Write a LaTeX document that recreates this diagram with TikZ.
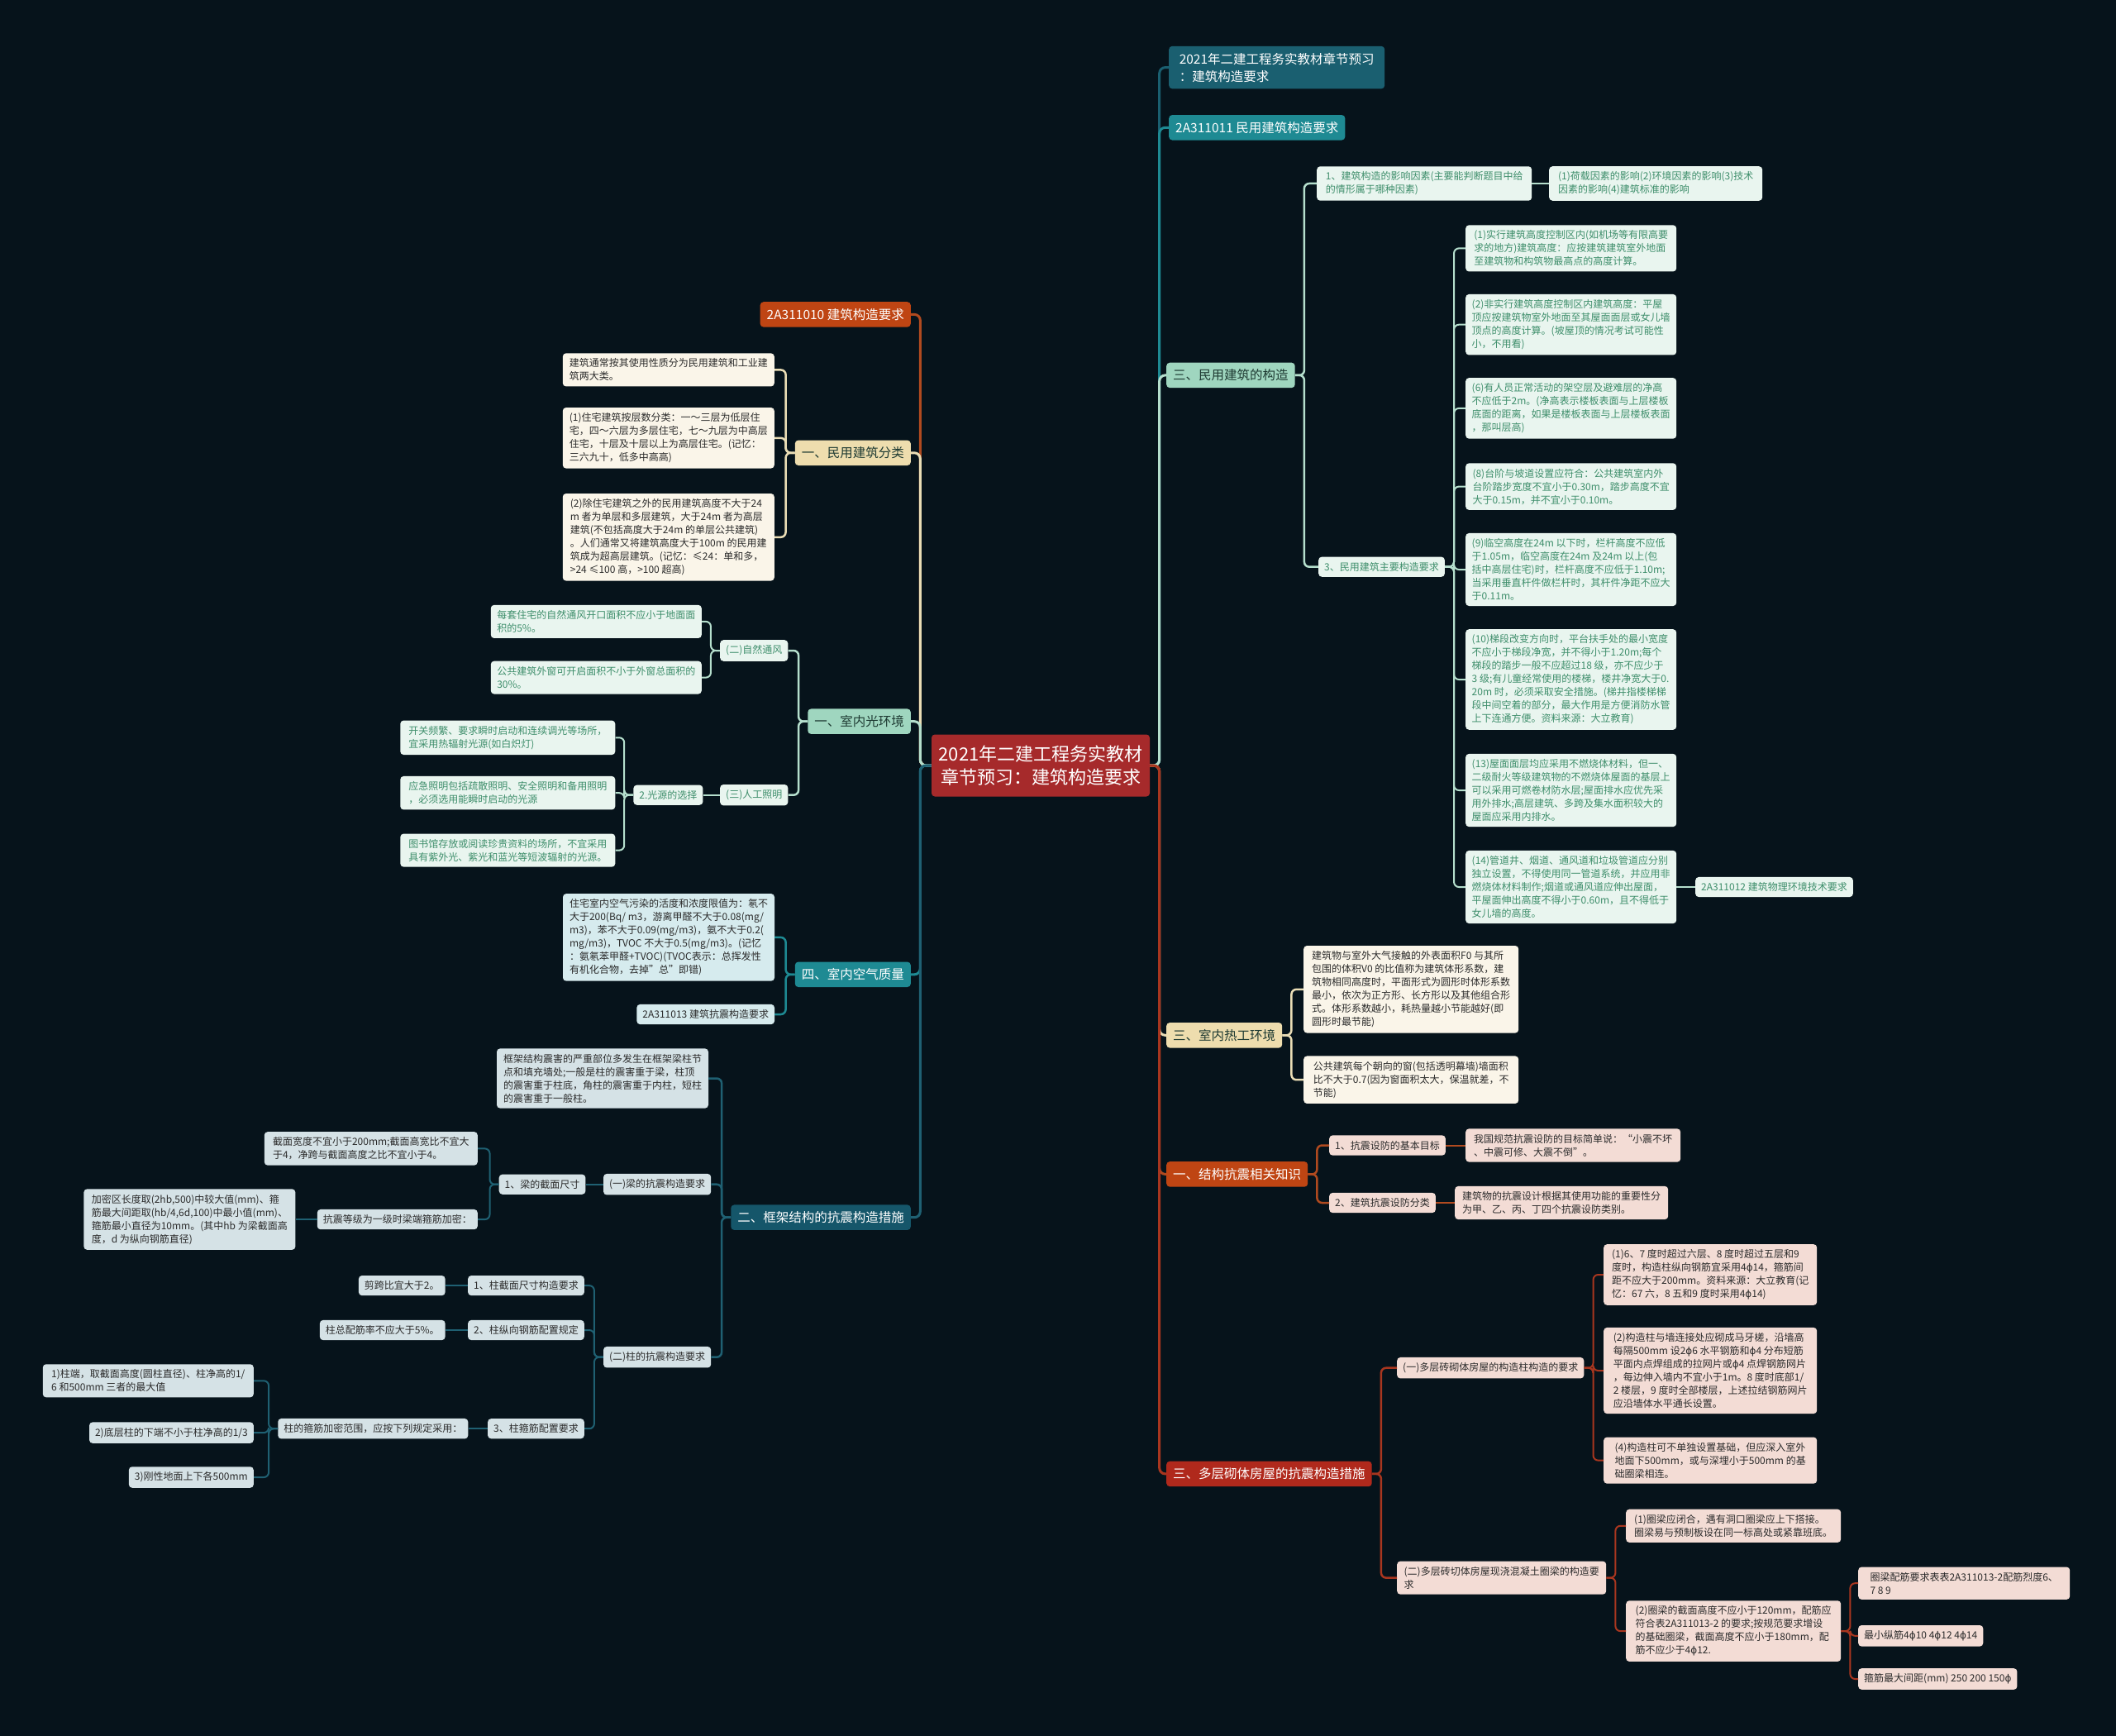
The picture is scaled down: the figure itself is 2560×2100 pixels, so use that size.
\documentclass[tikz,border=0pt]{standalone}
\usepackage{fontspec}
\setmainfont{Noto Sans CJK SC}
\newfontfamily\dvs{DejaVu Sans}
\newcommand\fai{{\dvs ϕ}}
\definecolor{bg}{HTML}{06131B}
\definecolor{rootF}{HTML}{A62A2B}
\definecolor{tealD}{HTML}{1A5F70}
\definecolor{teal1}{HTML}{1E8A93}
\definecolor{mint}{HTML}{9FD6BF}
\definecolor{mintC}{HTML}{B5DFCD}
\definecolor{mintL}{HTML}{E9F5EF}
\definecolor{mintT}{HTML}{3E8E6B}
\definecolor{beige}{HTML}{EEDDAE}
\definecolor{creamC}{HTML}{EADDB5}
\definecolor{creamL}{HTML}{FAF5E9}
\definecolor{orange1}{HTML}{BF4513}
\definecolor{orangeC}{HTML}{B04A1F}
\definecolor{red1}{HTML}{B0291C}
\definecolor{redC}{HTML}{A8361F}
\definecolor{pinkL}{HTML}{F3DCD5}
\definecolor{blueL}{HTML}{D6EBEE}
\definecolor{greyL}{HTML}{D5E2E6}
\definecolor{tealDD}{HTML}{15566A}
\definecolor{tealDC}{HTML}{1F6072}
\definecolor{darkT}{HTML}{2B2B2B}
\definecolor{brT}{HTML}{1E3A32}
\newcommand\cR[4][cn]{\draw[#1,draw=#2] (#3.east) -- ++(11,0) |- (#4.west);}
\newcommand\cL[4][cn]{\draw[#1,draw=#2] (#3.west) -- ++(-11,0) |- (#4.east);}
\newcommand\sR[3]{\draw[cn,draw=#1] (#2.east) -- (#3.west);}
\newcommand\sL[3]{\draw[cn,draw=#1] (#2.west) -- (#3.east);}
\begin{document}
\begin{tikzpicture}[x=1pt,y=-1pt,
 lf/.style={rounded corners=4pt, inner xsep=7pt, inner ysep=6.5pt, align=left, font=\fontsize{12}{16}\selectfont, text=darkT},
 mlf/.style={lf, fill=mintL, text=mintT},
 clf/.style={lf, fill=creamL},
 plf/.style={lf, fill=pinkL},
 blf/.style={lf, fill=blueL},
 glf/.style={lf, fill=greyL},
 br/.style={rounded corners=4pt, inner xsep=8pt, inner ysep=8pt, font=\fontsize{15.5}{20}\selectfont},
 R/.style={anchor=west}, L/.style={anchor=east},
 cn/.style={line width=2pt, rounded corners=6pt},
 bc/.style={line width=3pt, rounded corners=7pt},
 mc/.style={line width=2.5pt, rounded corners=6pt}]
\fill[bg] (0,0) rectangle (2560,2100);
\useasboundingbox (0,0) rectangle (2560,2100);

% root
\node[fill=rootF, text=white, rounded corners=4pt, align=center, font=\fontsize{22}{28}\selectfont, minimum width=264pt, minimum height=75pt, inner sep=8pt] (root) at (1259,926) {2021年二建工程务实教材\\章节预习：建筑构造要求};

% ---------------- right side ----------------
\node[br, fill=tealD, text=white, align=left, minimum width=261pt, R, font=\fontsize{15.5}{21}\selectfont] (t1) at (1414,81.6) {2021年二建工程务实教材章节预习\\：建筑构造要求};
\node[br, fill=teal1, text=white, R] (t2) at (1414,154.3) {2A311011 民用建筑构造要求};

\node[br, fill=mint, text=brT, R] (m3) at (1411,453.9) {三、民用建筑的构造};
\node[mlf, R, minimum width=260pt] (m31) at (1593,222) {1、建筑构造的影响因素(主要能判断题目中给\\的情形属于哪种因素)};
\node[mlf, R, minimum width=258pt] (m31a) at (1874,222) {(1)荷载因素的影响(2)环境因素的影响(3)技术\\因素的影响(4)建筑标准的影响};
\node[mlf, R] (m33) at (1595,685.7) {3、民用建筑主要构造要求};
\node[mlf, R, minimum width=255pt] (a1) at (1773,300.4) {(1)实行建筑高度控制区内(如机场等有限高要\\求的地方)建筑高度：应按建筑建筑室外地面\\至建筑物和构筑物最高点的高度计算。};
\node[mlf, R, minimum width=255pt] (a2) at (1773,392.7) {(2)非实行建筑高度控制区内建筑高度：平屋\\顶应按建筑物室外地面至其屋面面层或女儿墙\\顶点的高度计算。(坡屋顶的情况考试可能性\\小，不用看)};
\node[mlf, R, minimum width=255pt] (a3) at (1773,493.9) {(6)有人员正常活动的架空层及避难层的净高\\不应低于2m。(净高表示楼板表面与上层楼板\\底面的距离，如果是楼板表面与上层楼板表面\\，那叫层高)};
\node[mlf, R, minimum width=255pt] (a4) at (1773,588.6) {(8)台阶与坡道设置应符合：公共建筑室内外\\台阶踏步宽度不宜小于0.30m，踏步高度不宜\\大于0.15m，并不宜小于0.10m。};
\node[mlf, R, minimum width=255pt] (a5) at (1773,689) {(9)临空高度在24m 以下时，栏杆高度不应低\\于1.05m，临空高度在24m 及24m 以上(包\\括中高层住宅)时，栏杆高度不应低于1.10m;\\当采用垂直杆件做栏杆时，其杆件净距不应大\\于0.11m。};
\node[mlf, R, minimum width=255pt] (a6) at (1773,822) {(10)梯段改变方向时，平台扶手处的最小宽度\\不应小于梯段净宽，并不得小于1.20m;每个\\梯段的踏步一般不应超过18 级，亦不应少于\\3 级;有儿童经常使用的楼梯，楼井净宽大于0.\\20m 时，必须采取安全措施。(梯井指楼梯梯\\段中间空着的部分，最大作用是方便消防水管\\上下连通方便。资料来源：大立教育)};
\node[mlf, R, minimum width=255pt] (a7) at (1773,956) {(13)屋面面层均应采用不燃烧体材料，但一、\\二级耐火等级建筑物的不燃烧体屋面的基层上\\可以采用可燃卷材防水层;屋面排水应优先采\\用外排水;高层建筑、多跨及集水面积较大的\\屋面应采用内排水。};
\node[mlf, R, minimum width=255pt] (a8) at (1773,1073) {(14)管道井、烟道、通风道和垃圾管道应分别\\独立设置，不得使用同一管道系统，并应用非\\燃烧体材料制作;烟道或通风道应伸出屋面，\\平屋面伸出高度不得小于0.60m，且不得低于\\女儿墙的高度。};
\node[mlf, R] (m12) at (2051,1073) {2A311012 建筑物理环境技术要求};

\node[br, fill=beige, text=brT, R] (h) at (1411,1252.3) {三、室内热工环境};
\node[clf, R, minimum width=260pt] (h1) at (1577,1196.8) {建筑物与室外大气接触的外表面积F0 与其所\\包围的体积V0 的比值称为建筑体形系数，建\\筑物相同高度时，平面形式为圆形时体形系数\\最小，依次为正方形、长方形以及其他组合形\\式。体形系数越小，耗热量越小节能越好(即\\圆形时最节能)};
\node[clf, R, minimum width=260pt] (h2) at (1577,1306.2) {公共建筑每个朝向的窗(包括透明幕墙)墙面积\\比不大于0.7(因为窗面积太大，保温就差，不\\节能)};

\node[br, fill=orange1, text=white, R] (k) at (1411,1420.4) {一、结构抗震相关知识};
\node[plf, R] (k1) at (1608,1385.5) {1、抗震设防的基本目标};
\node[plf, R, minimum width=260pt] (k1a) at (1773,1385.5) {我国规范抗震设防的目标简单说：“小震不坏\\、中震可修、大震不倒”。};
\node[plf, R] (k2) at (1608,1455) {2、建筑抗震设防分类};
\node[plf, R, minimum width=258pt] (k2a) at (1760,1455) {建筑物的抗震设计根据其使用功能的重要性分\\为甲、乙、丙、丁四个抗震设防类别。};

\node[br, fill=red1, text=white, R] (q) at (1411,1782.9) {三、多层砌体房屋的抗震构造措施};
\node[plf, R] (q1) at (1690,1654.7) {(一)多层砖砌体房屋的构造柱构造的要求};
\node[plf, R, minimum width=258pt] (q1a) at (1940,1542) {(1)6、7 度时超过六层、8 度时超过五层和9\\度时，构造柱纵向钢筋宜采用4\fai14，箍筋间\\距不应大于200mm。资料来源：大立教育(记\\忆：67 六，8 五和9 度时采用4\fai14)};
\node[plf, R, minimum width=258pt] (q1b) at (1940,1658) {(2)构造柱与墙连接处应砌成马牙槎，沿墙高\\每隔500mm 设2\fai6 水平钢筋和\fai4 分布短筋\\平面内点焊组成的拉网片或\fai4 点焊钢筋网片\\，每边伸入墙内不宜小于1m。8 度时底部1/\\2 楼层，9 度时全部楼层，上述拉结钢筋网片\\应沿墙体水平通长设置。};
\node[plf, R, minimum width=258pt] (q1c) at (1940,1766.6) {(4)构造柱可不单独设置基础，但应深入室外\\地面下500mm，或与深埋小于500mm 的基\\础圈梁相连。};
\node[plf, R, minimum width=253pt] (q2) at (1690,1908.6) {(二)多层砖切体房屋现浇混凝土圈梁的构造要\\求};
\node[plf, R, minimum width=260pt] (q2a) at (1967,1845.8) {(1)圈梁应闭合，遇有洞口圈梁应上下搭接。\\圈梁易与预制板设在同一标高处或紧靠班底。};
\node[plf, R, minimum width=260pt] (q2b) at (1967,1973.1) {(2)圈梁的截面高度不应小于120mm，配筋应\\符合表2A311013-2 的要求;按规范要求增设\\的基础圈梁，截面高度不应小于180mm，配\\筋不应少于4\fai12.};
\node[plf, R, minimum width=256pt] (q2b1) at (2248,1915.2) {圈梁配筋要求表表2A311013-2配筋烈度6、\\7 8 9};
\node[plf, R] (q2b2) at (2248,1978.8) {最小纵筋4\fai10 4\fai12 4\fai14};
\node[plf, R] (q2b3) at (2248,2031) {箍筋最大间距(mm) 250 200 150\fai};

% ---------------- left side ----------------
\node[br, fill=orange1, text=white, L] (l1) at (1102,380.4) {2A311010 建筑构造要求};
\node[br, fill=beige, text=brT, L] (l2) at (1102,547.8) {一、民用建筑分类};
\node[clf, L, minimum width=256pt] (l2a) at (937,447.4) {建筑通常按其使用性质分为民用建筑和工业建\\筑两大类。};
\node[clf, L, minimum width=256pt] (l2b) at (937,529.8) {(1)住宅建筑按层数分类：一～三层为低层住\\宅，四～六层为多层住宅，七～九层为中高层\\住宅，十层及十层以上为高层住宅。(记忆：\\三六九十，低多中高高)};
\node[clf, L, minimum width=256pt] (l2c) at (937,649.8) {(2)除住宅建筑之外的民用建筑高度不大于24\\m 者为单层和多层建筑，大于24m 者为高层\\建筑(不包括高度大于24m 的单层公共建筑)\\。人们通常又将建筑高度大于100m 的民用建\\筑成为超高层建筑。(记忆：≤24：单和多，\\>24 ≤100 高，>100 超高)};

\node[br, fill=mint, text=brT, L] (l3) at (1102,872.7) {一、室内光环境};
\node[mlf, L] (l3a) at (953.5,787) {(二)自然通风};
\node[mlf, L, minimum width=255pt] (l3a1) at (849,751.9) {每套住宅的自然通风开口面积不应小于地面面\\积的5\%。};
\node[mlf, L, minimum width=255pt] (l3a2) at (849,819.6) {公共建筑外窗可开启面积不小于外窗总面积的\\30\%。};
\node[mlf, L] (l3b) at (953.5,961.7) {(三)人工照明};
\node[mlf, L] (l3b1) at (850.6,961.7) {2.光源的选择};
\node[mlf, L, minimum width=260pt] (l3b1a) at (744.5,892.3) {开关频繁、要求瞬时启动和连续调光等场所，\\宜采用热辐射光源(如白炽灯)};
\node[mlf, L, minimum width=260pt] (l3b1b) at (744.5,959.2) {应急照明包括疏散照明、安全照明和备用照明\\，必须选用能瞬时启动的光源};
\node[mlf, L, minimum width=260pt] (l3b1c) at (744.5,1028.6) {图书馆存放或阅读珍贵资料的场所，不宜采用\\具有紫外光、紫光和蓝光等短波辐射的光源。};

\node[br, fill=teal1, text=white, L] (l4) at (1102,1178.8) {四、室内空气质量};
\node[blf, L, minimum width=256pt] (l4a) at (937.2,1133.9) {住宅室内空气污染的活度和浓度限值为：氡不\\大于200(Bq/ m3，游离甲醛不大于0.08(mg/\\m3)，苯不大于0.09(mg/m3)，氨不大于0.2(\\mg/m3)，TVOC 不大于0.5(mg/m3)。(记忆\\：氨氡苯甲醛+TVOC)(TVOC表示：总挥发性\\有机化合物，去掉"总"即错)};
\node[blf, L] (l4b) at (937.2,1227) {2A311013 建筑抗震构造要求};

\node[br, fill=tealDD, text=white, L] (l5) at (1102,1472.7) {二、框架结构的抗震构造措施};
\node[glf, L, minimum width=256pt] (l5a) at (857.2,1304.5) {框架结构震害的严重部位多发生在框架梁柱节\\点和填充墙处;一般是柱的震害重于梁，柱顶\\的震害重于柱底，角柱的震害重于内柱，短柱\\的震害重于一般柱。};
\node[glf, L] (l5b) at (860.4,1432.7) {(一)梁的抗震构造要求};
\node[glf, L] (l5b1) at (708.6,1432.7) {1、梁的截面尺寸};
\node[glf, L, minimum width=258pt] (l5b1a) at (578,1389.4) {截面宽度不宜小于200mm;截面高宽比不宜大\\于4，净跨与截面高度之比不宜小于4。};
\node[glf, L] (l5b1b) at (578,1475.1) {抗震等级为一级时梁端箍筋加密：};
\node[glf, L, minimum width=256pt] (l5b1b1) at (357.6,1475.1) {加密区长度取(2hb,500)中较大值(mm)、箍\\筋最大间距取(hb/4,6d,100)中最小值(mm)、\\箍筋最小直径为10mm。(其中hb 为梁截面高\\度，d 为纵向钢筋直径)};
\node[glf, L] (l5c) at (860.4,1641.7) {(二)柱的抗震构造要求};
\node[glf, L] (l5c1) at (707,1555.1) {1、柱截面尺寸构造要求};
\node[glf, L] (l5c1a) at (538.8,1555.1) {剪跨比宜大于2。};
\node[glf, L] (l5c2) at (707,1609) {2、柱纵向钢筋配置规定};
\node[glf, L] (l5c2a) at (538.8,1609) {柱总配筋率不应大于5\%。};
\node[glf, L] (l5c3) at (707,1728.2) {3、柱箍筋配置要求};
\node[glf, L] (l5c3a) at (566.5,1728.2) {柱的箍筋加密范围，应按下列规定采用：};
\node[glf, L, minimum width=255pt] (l5c3a1) at (307,1670.3) {1)柱端，取截面高度(圆柱直径)、柱净高的1/\\6 和500mm 三者的最大值};
\node[glf, L] (l5c3a2) at (307,1733.1) {2)底层柱的下端不小于柱净高的1/3};
\node[glf, L] (l5c3a3) at (307,1787) {3)刚性地面上下各500mm};

% ---------------- connectors ----------------
\begin{scope}[on background layer/.style={}]
\end{scope}
% root -> right
\draw[bc,draw=tealD] (root.east) -- ++(11.5,0) |- (t1.west);
\draw[bc,draw=teal1] (root.east) -- ++(11.5,0) |- (t2.west);
\draw[bc,draw=mintC] (root.east) -- ++(11.5,0) |- (m3.west);
\draw[bc,draw=creamC] (root.east) -- ++(11.5,0) |- (h.west);
\draw[bc,draw=orangeC] (root.east) -- ++(11.5,0) |- (k.west);
\draw[bc,draw=redC] (root.east) -- ++(11.5,0) |- (q.west);
% root -> left
\draw[bc,draw=orangeC] (root.west) -- ++(-13.5,0) |- (l1.east);
\draw[bc,draw=creamC] (root.west) -- ++(-13.5,0) |- (l2.east);
\draw[bc,draw=mintC] (root.west) -- ++(-13.5,0) |- (l3.east);
\draw[bc,draw=teal1] (root.west) -- ++(-13.5,0) |- (l4.east);
\draw[bc,draw=tealDC] (root.west) -- ++(-13.5,0) |- (l5.east);

% right subtrees
\foreach \c in {m31,m33} {\cR[mc]{mintC}{m3}{\c}}
\sR{mintC}{m31}{m31a}
\foreach \c in {a1,a2,a3,a4,a5,a6,a7,a8} {\cR{mintC}{m33}{\c}}
\sR{mintC}{a8}{m12}
\foreach \c in {h1,h2} {\cR[mc]{creamC}{h}{\c}}
\foreach \c in {k1,k2} {\cR[mc]{orangeC}{k}{\c}}
\sR{orangeC}{k1}{k1a}
\sR{orangeC}{k2}{k2a}
\foreach \c in {q1,q2} {\cR[mc]{redC}{q}{\c}}
\foreach \c in {q1a,q1b,q1c} {\cR{redC}{q1}{\c}}
\foreach \c in {q2a,q2b} {\cR{redC}{q2}{\c}}
\foreach \c in {q2b1,q2b2,q2b3} {\cR{redC}{q2b}{\c}}

% left subtrees
\foreach \c in {l2a,l2b,l2c} {\cL[mc]{creamC}{l2}{\c}}
\foreach \c in {l3a,l3b} {\cL[mc]{mintC}{l3}{\c}}
\foreach \c in {l3a1,l3a2} {\cL{mintC}{l3a}{\c}}
\sL{mintC}{l3b}{l3b1}
\foreach \c in {l3b1a,l3b1b,l3b1c} {\cL{mintC}{l3b1}{\c}}
\foreach \c in {l4a,l4b} {\cL[mc]{teal1}{l4}{\c}}
\foreach \c in {l5a,l5b,l5c} {\cL[mc]{tealDC}{l5}{\c}}
\sL{tealDC}{l5b}{l5b1}
\foreach \c in {l5b1a,l5b1b} {\cL{tealDC}{l5b1}{\c}}
\sL{tealDC}{l5b1b}{l5b1b1}
\foreach \c in {l5c1,l5c2,l5c3} {\cL{tealDC}{l5c}{\c}}
\sL{tealDC}{l5c1}{l5c1a}
\sL{tealDC}{l5c2}{l5c2a}
\sL{tealDC}{l5c3}{l5c3a}
\foreach \c in {l5c3a1,l5c3a2,l5c3a3} {\cL{tealDC}{l5c3a}{\c}}
\end{tikzpicture}
\end{document}
